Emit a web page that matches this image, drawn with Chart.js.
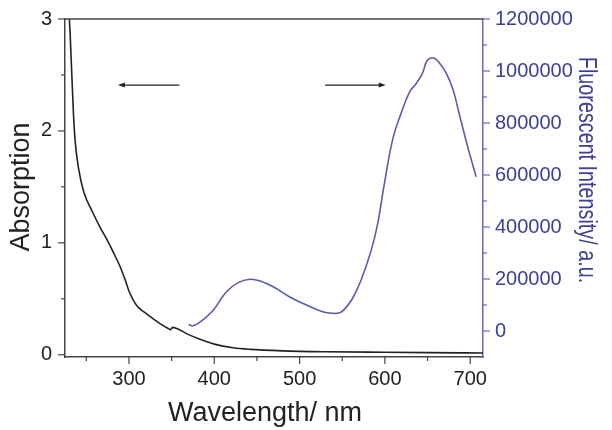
<!DOCTYPE html>
<html>
<head>
<meta charset="utf-8">
<script src="https://cdn.jsdelivr.net/npm/chart.js@4.4.1/dist/chart.umd.min.js"></script>
<style>
  html, body { margin: 0; padding: 0; background: #fff; }
  #wrap { width: 612px; height: 430px; position: relative; }
</style>
</head>
<body>
<div id="wrap"><canvas id="chart"></canvas></div>
<script>
"use strict";

// ── Absorption spectrum (left axis) ──
const ABS_WL  = [228, 231, 233, 235, 237, 241, 247, 257, 266, 274, 282, 290, 296, 300, 309, 318, 325,
                 336, 346, 349, 351, 356, 370, 384, 400, 422, 442, 480, 530, 600, 650, 715];
const ABS_VAL = [3.3, 2.87, 2.50, 2.14, 1.90, 1.66, 1.455, 1.28, 1.14, 1.03, 0.91, 0.78, 0.66, 0.57, 0.44, 0.38, 0.34,
                 0.28, 0.235, 0.225, 0.245, 0.235, 0.18, 0.136, 0.095, 0.062, 0.048, 0.035, 0.027, 0.022, 0.019, 0.016];

// ── Fluorescence spectrum (right axis) ──
const FL_WL  = [370, 375, 384, 399, 414, 428, 442, 453, 469, 488, 508, 527, 539, 547, 553, 562, 572,
                584, 592, 598, 609, 619, 629, 637, 644, 650, 658, 664, 672, 680, 687, 697, 707];
const FL_VAL = [25000, 20000, 36000, 81000, 150000, 186000, 199000, 193000, 170000, 132000, 100000,
                74000, 68000, 70000, 85000, 125000, 195000, 311000, 420000, 540000, 735000, 837000,
                920000, 953000, 991000, 1042000, 1049000, 1030000, 991000, 927000, 837000, 709000, 593000];

// ── Ticks ──
const X_TICKS  = [300, 400, 500, 600, 700];
const X_MINOR  = [250, 350, 450, 550, 650];
const Y_TICKS  = [0, 1, 2, 3];
const Y_MINOR  = [0.5, 1.5, 2.5];
const Y2_TICKS = [0, 200000, 400000, 600000, 800000, 1000000, 1200000];
const Y2_MINOR = [100000, 300000, 500000, 700000, 900000, 1100000];

// ── Arrows: [from nm, to nm, absorption level] ──
const ARROWS = [[359, 287, 2.41], [530, 601, 2.41]];

const FONT      = "'Liberation Sans', Arial, sans-serif";
const INK       = "#222";
const AXIS      = "#444";
const BLUE_LINE = "#5a5da8";
const BLUE_AXIS = "#6468b8";
const BLUE_TEXT = "#3c4096";

function seg(ctx, x1, y1, x2, y2) {
  ctx.beginPath(); ctx.moveTo(x1, y1); ctx.lineTo(x2, y2); ctx.stroke();
}

// fixed axis width, and no extra room above/below for the end labels
function fixVertical(width) {
  return s => { s.width = width; s.paddingTop = 0; s.paddingBottom = 0; };
}

const decor = {
  id: "decor",
  afterDraw(chart) {
    const { ctx, chartArea: a, scales } = chart;
    ctx.save();

    // top frame
    ctx.strokeStyle = AXIS; ctx.lineWidth = 1.5;
    seg(ctx, a.left, a.top, a.right, a.top);

    // tick marks (major long, minor short)
    ctx.lineWidth = 1.2;
    X_TICKS.forEach(v => { const p = scales.x.getPixelForValue(v); seg(ctx, p, a.bottom, p, a.bottom + 7); });
    X_MINOR.forEach(v => { const p = scales.x.getPixelForValue(v); seg(ctx, p, a.bottom, p, a.bottom + 4); });
    Y_TICKS.forEach(v => { const p = scales.y.getPixelForValue(v); seg(ctx, a.left - 7, p, a.left, p); });
    Y_MINOR.forEach(v => { const p = scales.y.getPixelForValue(v); seg(ctx, a.left - 4, p, a.left, p); });
    ctx.strokeStyle = BLUE_AXIS;
    Y2_TICKS.forEach(v => { const p = scales.y2.getPixelForValue(v); seg(ctx, a.right, p, a.right + 7, p); });
    Y2_MINOR.forEach(v => { const p = scales.y2.getPixelForValue(v); seg(ctx, a.right, p, a.right + 4, p); });

    // arrows
    ctx.strokeStyle = INK; ctx.fillStyle = INK; ctx.lineWidth = 1.2;
    ARROWS.forEach(([from, to, lvl]) => {
      const x1 = scales.x.getPixelForValue(from), x2 = scales.x.getPixelForValue(to);
      const y = scales.y.getPixelForValue(lvl);
      const dir = Math.sign(x2 - x1);
      seg(ctx, x1, y, x2 - dir * 3, y);
      ctx.beginPath();
      ctx.moveTo(x2, y);
      ctx.lineTo(x2 - dir * 7, y - 2.5);
      ctx.lineTo(x2 - dir * 7, y + 2.5);
      ctx.closePath(); ctx.fill();
    });

    // axis titles
    ctx.textAlign = "center"; ctx.textBaseline = "alphabetic";
    ctx.fillStyle = INK;
    ctx.font = "27px " + FONT;
    ctx.fillText("Wavelength/ nm", 265, 421);

    ctx.save();
    ctx.translate(29, 187); ctx.rotate(-Math.PI / 2);
    ctx.fillText("Absorption", 0, 0);
    ctx.restore();

    ctx.save();
    ctx.fillStyle = BLUE_TEXT;
    ctx.font = "26px " + FONT;
    ctx.translate(579, 170); ctx.rotate(Math.PI / 2); ctx.scale(0.76, 1);
    ctx.fillText("Fluorescent Intensity/ a.u.", 0, 0);
    ctx.restore();

    ctx.restore();
  }
};

const tickFont = { family: FONT, size: 20 };
const noGrid = { drawOnChartArea: false, drawTicks: false };

new Chart(document.getElementById("chart").getContext("2d"), {
  type: "line",
  data: {
    datasets: [
      {
        data: ABS_WL.map((x, i) => ({ x, y: ABS_VAL[i] })),
        yAxisID: "y",
        borderColor: INK, borderWidth: 1.6,
        pointRadius: 0, cubicInterpolationMode: "monotone"
      },
      {
        data: FL_WL.map((x, i) => ({ x, y: FL_VAL[i] })),
        yAxisID: "y2",
        borderColor: BLUE_LINE, borderWidth: 1.6,
        pointRadius: 0, tension: 0.4
      }
    ]
  },
  options: {
    animation: false,
    responsive: true,
    maintainAspectRatio: false,
    layout: { padding: { top: 19, left: 0, right: 0, bottom: 0 } },
    plugins: { legend: { display: false }, tooltip: { enabled: false } },
    scales: {
      x: {
        type: "linear", position: "bottom", min: 225, max: 715,
        afterBuildTicks: s => { s.ticks = X_TICKS.map(value => ({ value })); },
        afterFit: s => { s.height = 73; },
        grid: noGrid,
        border: { color: AXIS, width: 1.5 },
        ticks: { color: INK, font: tickFont, padding: 10, maxRotation: 0, autoSkip: false, callback: v => String(v) }
      },
      y: {
        position: "left", min: -0.02, max: 3,
        afterBuildTicks: s => { s.ticks = Y_TICKS.map(value => ({ value })); },
        afterFit: fixVertical(65),
        grid: noGrid,
        border: { color: AXIS, width: 1.5 },
        ticks: { color: INK, font: tickFont, padding: 13, autoSkip: false, callback: v => String(v) }
      },
      y2: {
        position: "right", min: -100000, max: 1200000,
        afterBuildTicks: s => { s.ticks = Y2_TICKS.map(value => ({ value })); },
        afterFit: fixVertical(129),
        grid: noGrid,
        border: { color: BLUE_AXIS, width: 1.5 },
        ticks: { color: BLUE_TEXT, font: tickFont, padding: 12, autoSkip: false, callback: v => String(v) }
      }
    }
  },
  plugins: [decor]
});
</script>
</body>
</html>
